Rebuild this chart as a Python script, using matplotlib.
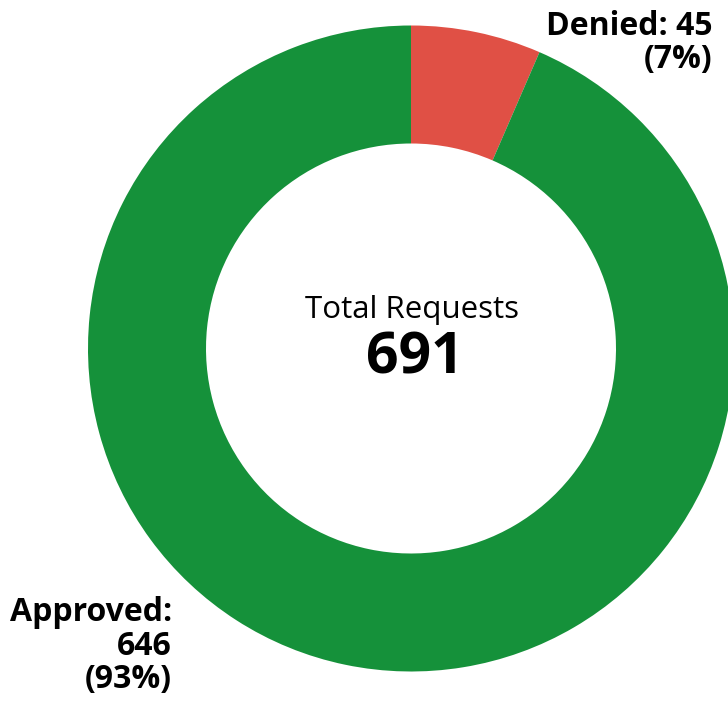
import matplotlib
matplotlib.use('Agg')

import matplotlib.pyplot as plt
import numpy as np

"""
    donut chart of approved / denied requests
"""

labels = ['Denied', 'Approved']
counts = [45, 646]
colours = ['#e05045', '#15913a']

total = sum(counts)
pcts = [int(round(100.0 * c / total)) for c in counts]

W, H = 728, 702
plt.rcParams['font.family'] = ['Open Sans', 'DejaVu Sans']

fig = plt.figure(figsize=(W / 100., H / 100.), dpi=100)
ax = fig.add_axes([0, 0, 1, 1])

# pie in pixel units, y measured from the bottom
R = 323
ax.pie(counts, colors=colours, startangle=90, counterclock=False,
       radius=R, center=(411, H - 348.5), frame=True,
       wedgeprops=dict(width=118, linewidth=0))
ax.set_xlim(0, W)
ax.set_ylim(0, H)
ax.set_aspect('auto')
ax.axis('off')

# centre text
ax.text(412, H - 318, 'Total Requests', ha='center', va='baseline', fontsize=22.5)
ax.text(415, H - 374, str(total), ha='center', va='baseline', fontsize=41,
        fontweight='bold')

# slice labels
ax.text(712, H - 35, '%s: %d' % (labels[0], counts[0]), ha='right', va='baseline',
        fontsize=23, fontweight='bold')
ax.text(712, H - 68, '(%d%%)' % pcts[0], ha='right', va='baseline',
        fontsize=23, fontweight='bold')

ax.text(172, H - 621, '%s:' % labels[1], ha='right', va='baseline',
        fontsize=23, fontweight='bold')
ax.text(172, H - 655, '%d' % counts[1], ha='right', va='baseline',
        fontsize=23, fontweight='bold')
ax.text(172, H - 688, '(%d%%)' % pcts[1], ha='right', va='baseline',
        fontsize=23, fontweight='bold')

plt.savefig('out.png', dpi=100)
plt.close()
